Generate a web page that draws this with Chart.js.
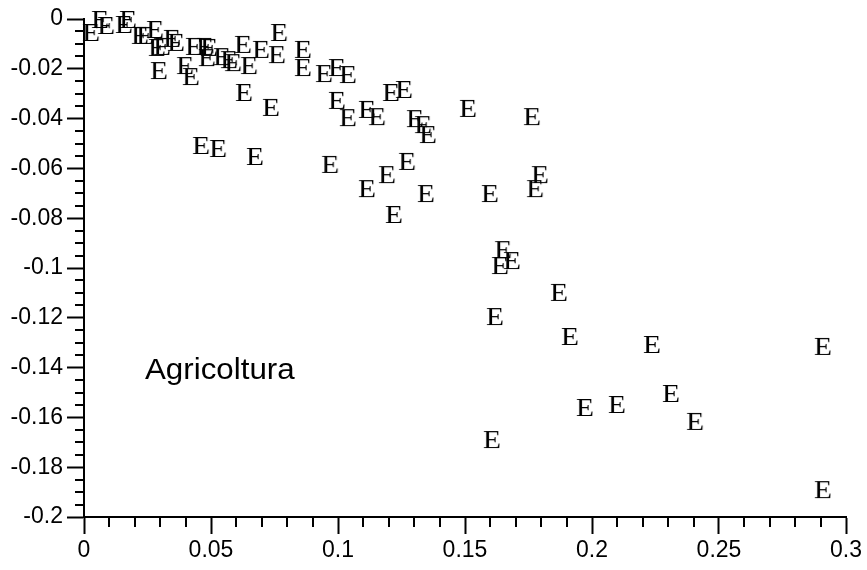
<!DOCTYPE html>
<html>
<head>
<meta charset="utf-8">
<script src="https://cdn.jsdelivr.net/npm/chart.js@4.4.0/dist/chart.umd.min.js"></script>
<style>
  body { margin: 0; background: #fff; }
</style>
</head>
<body>
<canvas id="grafico" width="867" height="570"></canvas>
<script>
// valori
var xValues = [0.0028, 0.0063, 0.0087, 0.0157, 0.0173, 0.0220, 0.0240, 0.0280, 0.0287, 0.0307,
  0.0295, 0.0346, 0.0362, 0.0398, 0.0421, 0.0433, 0.0476, 0.0492, 0.0484, 0.0543,
  0.0571, 0.0587, 0.0626, 0.0650, 0.0697, 0.0760, 0.0768, 0.0862, 0.0862, 0.0630,
  0.0736, 0.0461, 0.0528, 0.0673, 0.0969, 0.0945, 0.0996, 0.1039, 0.0996, 0.1039,
  0.1114, 0.1154, 0.1209, 0.1260, 0.1303, 0.1335, 0.1354, 0.1512, 0.1764, 0.1114,
  0.1193, 0.1272, 0.1220, 0.1346, 0.1598, 0.1776, 0.1795, 0.1650, 0.1638, 0.1685,
  0.1870, 0.1618, 0.1913, 0.2236, 0.2909, 0.2311, 0.1972, 0.2098, 0.2406, 0.1606,
  0.2909];
var yValues = [-0.0056, -0.0004, -0.0028, -0.0024, -0.0004, -0.0068, -0.0068, -0.0044, -0.0116, -0.0112,
  -0.0209, -0.0080, -0.0096, -0.0189, -0.0233, -0.0112, -0.0112, -0.0116, -0.0157, -0.0153,
  -0.0165, -0.0177, -0.0104, -0.0189, -0.0124, -0.0145, -0.0056, -0.0124, -0.0197, -0.0297,
  -0.0357, -0.0510, -0.0522, -0.0554, -0.0586, -0.0221, -0.0197, -0.0225, -0.0329, -0.0398,
  -0.0365, -0.0394, -0.0297, -0.0285, -0.0402, -0.0426, -0.0466, -0.0361, -0.0394, -0.0683,
  -0.0627, -0.0574, -0.0787, -0.0703, -0.0703, -0.0683, -0.0627, -0.0928, -0.0992, -0.0972,
  -0.1100, -0.1197, -0.1277, -0.1309, -0.1317, -0.1506, -0.1562, -0.1550, -0.1618, -0.1691,
  -0.1892];

var xRange = [0, 0.3];
var yRange = [-0.2, 0];
var xStep = 0.05;
var yStep = 0.02;
var xMinorStep = 0.01;
var yMinorStep = 0.005;

var etichetta = "Agricoltura";
var etichettaX = 0.024;
var etichettaY = -0.1415;
var simbolo = "E";

function makeMarker(){
	var c = document.createElement("canvas");
	c.width = 32;
	c.height = 32;
	var g = c.getContext("2d");
	g.fillStyle = "#000";
	g.font = "25px 'Liberation Serif', 'Times New Roman', serif";
	g.textAlign = "center";
	g.textBaseline = "alphabetic";
	g.translate(16, 16);
	g.scale(1.18, 1);
	g.fillText(simbolo, 0, 8.2);
	return c;
}

function getPoints(){
	var result = [];
	for (var i = 0; i < xValues.length; i++){
		result.push({x: xValues[i], y: yValues[i]});
	}
	return result;
}

function formatTick(v){
	return String(+v.toFixed(3));
}

var minorTicks = {
	id: "minorTicks",
	afterDraw: function(chart){
		var ctx = chart.ctx;
		var xs = chart.scales.x, ys = chart.scales.y;
		ctx.save();
		ctx.strokeStyle = "#000";
		ctx.lineWidth = 2;
		var nx = Math.round((xRange[1] - xRange[0]) / xMinorStep);
		for (var i = 0; i <= nx; i++){
			if (i % Math.round(xStep / xMinorStep) === 0) continue;
			var px = Math.round(xs.getPixelForValue(xRange[0] + i * xMinorStep));
			ctx.beginPath();
			ctx.moveTo(px, ys.bottom);
			ctx.lineTo(px, ys.bottom + 10);
			ctx.stroke();
		}
		var ny = Math.round((yRange[1] - yRange[0]) / yMinorStep);
		for (var j = 0; j <= ny; j++){
			if (j % Math.round(yStep / yMinorStep) === 0) continue;
			var py = Math.round(ys.getPixelForValue(yRange[0] + j * yMinorStep));
			ctx.beginPath();
			ctx.moveTo(xs.left - 9, py);
			ctx.lineTo(xs.left, py);
			ctx.stroke();
		}
		// scritta
		ctx.fillStyle = "#000";
		ctx.font = "29px 'Liberation Sans', Arial, sans-serif";
		ctx.textAlign = "left";
		ctx.textBaseline = "middle";
		ctx.translate(xs.getPixelForValue(etichettaX), ys.getPixelForValue(etichettaY));
		ctx.scale(1.08, 1);
		ctx.fillText(etichetta, 0, 0);
		ctx.restore();
	}
};

var tickFont = { family: "'Liberation Sans', Arial, sans-serif", size: 23 };

var ctx = document.getElementById("grafico").getContext("2d");
var chart = new Chart(ctx, {
	type: "scatter",
	data: {
		datasets: [{
			data: getPoints(),
			pointStyle: makeMarker(),
			pointRadius: 16,
			clip: false
		}]
	},
	options: {
		responsive: false,
		animation: false,
		layout: { padding: { top: 19, right: 21, left: 0, bottom: 0 } },
		plugins: { legend: { display: false }, tooltip: { enabled: false } },
		scales: {
			x: {
				type: "linear",
				min: xRange[0],
				max: xRange[1],
				afterFit: function(s){ s.height = 53; },
				border: { display: true, color: "#000", width: 2 },
				grid: { drawOnChartArea: false, color: "#000", tickColor: "#000", tickLength: 17, tickWidth: 2 },
				ticks: { stepSize: xStep, color: "#000", font: tickFont, padding: 3, maxRotation: 0, callback: formatTick }
			},
			y: {
				type: "linear",
				min: yRange[0],
				max: yRange[1],
				afterFit: function(s){ s.width = 84; },
				border: { display: true, color: "#000", width: 2 },
				grid: { drawOnChartArea: false, color: "#000", tickColor: "#000", tickLength: 17, tickWidth: 2 },
				ticks: { stepSize: yStep, color: "#000", font: tickFont, padding: 4, callback: formatTick }
			}
		}
	},
	plugins: [minorTicks]
});
</script>
</body>
</html>
